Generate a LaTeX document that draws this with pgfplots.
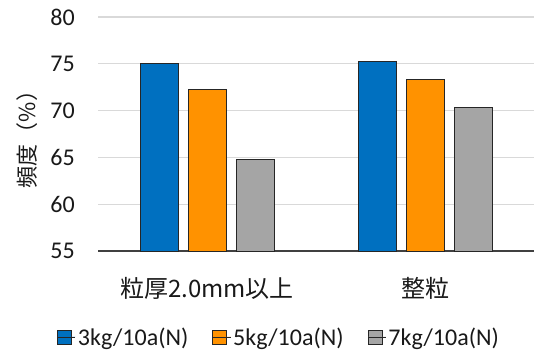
\documentclass[border=0pt]{standalone}
\usepackage{pgfplots}
\pgfplotsset{compat=1.18}
\usepackage{fontspec}
\setmainfont{Carlito}
\newfontfamily\jp{Noto Sans CJK JP}

\definecolor{cblue}{HTML}{0070C0}
\definecolor{corange}{HTML}{FF9200}
\definecolor{cgray}{HTML}{A5A5A5}
\definecolor{gridgray}{HTML}{D9D9D9}

\begin{document}
\begin{tikzpicture}
\path[use as bounding box] (-98pt,-100pt) rectangle (436pt,251pt);
\begin{axis}[
  scale only axis,
  width=436pt, height=234pt,
  xmin=-0.5, xmax=1.5,
  ymin=55, ymax=80,
  ytick={55,60,...,80},
  xtick={0,1},
  xticklabels={{\jp 粒厚2.0mm以上},{\jp 整粒}},
  ybar=10pt, bar width=38pt,
  axis x line*=bottom, axis y line*=left,
  axis line style={-},
  x axis line style={draw=black!75, line width=1.2pt},
  y axis line style={draw=none},
  major tick length=0pt,
  ymajorgrids,
  grid style={gridgray, line width=1.2pt},
  /pgf/number format/assume math mode=true,
  tick label style={font=\fontsize{24}{28}\selectfont, text=black!90},
  yticklabel style={anchor=east, inner sep=0pt, xshift=-23pt},
  xticklabel style={anchor=center, inner sep=0pt, yshift=-37pt},
  ylabel={\jp 頻度（\%）},
  ylabel style={at={(axis description cs:-0.163,0.5)}, rotate=0, anchor=center,
    font=\fontsize{22}{26}\selectfont, text=black!90},
  legend columns=3,
  legend style={at={(0.415,-0.3675)}, anchor=center, draw=none,
    font=\fontsize{24}{28}\selectfont, text=black!90,
    /tikz/every even column/.append style={column sep=22pt}},
  legend image code/.code={\draw[#1, line width=0.9pt] (0pt,-7pt) rectangle (14pt,7pt);
    \path (0pt,0pt) -- (18pt,0pt);},
  every axis plot/.append style={draw=black!85, line width=0.9pt},
]
\addplot[fill=cblue] coordinates {(0,75.0) (1,75.2)};
\addplot[fill=corange] coordinates {(0,72.3) (1,73.3)};
\addplot[fill=cgray] coordinates {(0,64.8) (1,70.3)};
\legend{3kg/10a(N),5kg/10a(N),7kg/10a(N)}
\end{axis}
\end{tikzpicture}
\end{document}
